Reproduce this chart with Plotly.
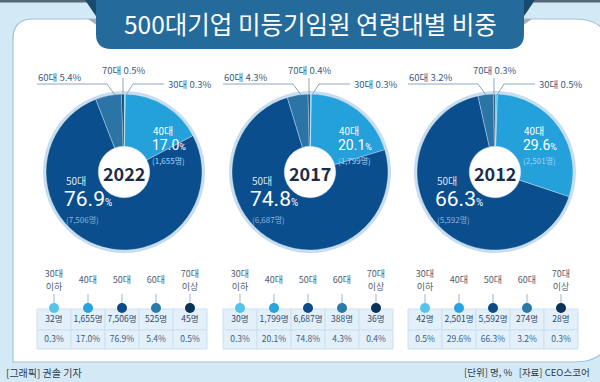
import plotly.graph_objects as go

# ---------------- data ----------------
title_text = "500대기업 미등기임원 연령대별 비중"
years = ["2022", "2017", "2012"]
age_short = ["30대", "40대", "50대", "60대", "70대"]
age_table = ["30대<br>이하", "40대", "50대", "60대", "70대<br>이상"]

counts_2022 = [32, 1655, 7506, 525, 45]
pct_2022 = [0.3, 17.0, 76.9, 5.4, 0.5]
counts_2017 = [30, 1799, 6687, 388, 36]
pct_2017 = [0.3, 20.1, 74.8, 4.3, 0.4]
counts_2012 = [42, 2501, 5592, 274, 28]
pct_2012 = [0.5, 29.6, 66.3, 3.2, 0.3]

credit_left = "[그래픽] 권솔 기자"
credit_right = "[단위] 명, %   [자료] CEO스코어"

counts_all = [counts_2022, counts_2017, counts_2012]
pct_all = [pct_2022, pct_2017, pct_2012]

# ---------------- styles ----------------
W, H = 600, 382
FONT = "Noto Sans CJK KR"
NUMFONT = "Roboto, Noto Sans CJK KR"
slice_colors = ["#4fc2ee", "#24a0db", "#0b4e8e", "#2b74a6", "#0c3862"]
dot_colors = ["#56c3ec", "#28a3dd", "#0d4a8a", "#2b78aa", "#0b3258"]
label_color = "#3b5d84"
leader_color = "#8ea6bf"

pie_cx = [124, 310, 495]
pie_cy = 172
R = 78
HOLE = 0.33
table_left = [37, 223, 408]
col_w = 34

fig = go.Figure()
shapes = []
ann = []

# background panel
shapes.append(dict(type="rect", x0=0, x1=W, y0=0, y1=H, fillcolor="#d4e9f6",
                   line=dict(width=0), layer="below"))
panel_path = ("M 13,39 Q 13,19 33,19 L 575,19 Q 611,19 611,55 L 611,326 "
              "Q 611,362 575,362 L 13,362 Z")
shapes.append(dict(type="path", path=panel_path, fillcolor="white",
                   line=dict(color="#9fc2dc", width=1.2), layer="below"))
# top strip
shapes.append(dict(type="rect", x0=0, x1=W, y0=0, y1=2.5, fillcolor="#55687a",
                   line=dict(width=0), layer="below"))
# banner folds
shapes.append(dict(type="path", path="M 85,0 L 98,0 L 98,19 Z", fillcolor="#174a6d",
                   line=dict(width=0), layer="below"))
shapes.append(dict(type="path", path="M 522,0 L 535,0 L 522,19 Z", fillcolor="#174a6d",
                   line=dict(width=0), layer="below"))
shapes.append(dict(type="path", path="M 88,19 L 98,19 L 98,26 Z", fillcolor="#a9adb2",
                   line=dict(width=0), layer="below"))
shapes.append(dict(type="path", path="M 522,19 L 532,19 L 522,26 Z", fillcolor="#a9adb2",
                   line=dict(width=0), layer="below"))
# banner body
shapes.append(dict(type="path",
                   path="M 96,0 L 524,0 L 524,34 Q 524,49 509,49 L 111,49 Q 96,49 96,34 Z",
                   fillcolor="#246b9b", line=dict(width=0), layer="below"))
ann.append(dict(x=310, y=23, text=title_text, showarrow=False,
                font=dict(family=FONT, size=24.5, color="white")))


def txt(x, y, text, size, color, h, anchor="left", family=FONT):
    ann.append(dict(x=x, y=y, text=text, showarrow=False, xanchor=anchor,
                    height=h, borderpad=0, font=dict(family=family, size=size, color=color)))


for k, year in enumerate(years):
    cx = pie_cx[k]
    counts = counts_all[k]
    pcts = pct_all[k]
    # outer ring and white centre
    shapes.append(dict(type="circle", x0=cx - R - 3, x1=cx + R + 3,
                       y0=pie_cy - R - 3, y1=pie_cy + R + 3,
                       fillcolor="#c6ddee", line=dict(width=0), layer="below"))
    hr = R * HOLE
    shapes.append(dict(type="circle", x0=cx - hr, x1=cx + hr,
                       y0=pie_cy - hr, y1=pie_cy + hr,
                       fillcolor="white", line=dict(color="#dfe7ef", width=1), layer="below"))
    fig.add_trace(go.Pie(
        values=pcts, labels=age_short, sort=False, direction="clockwise", rotation=0,
        hole=HOLE, textinfo="none", hoverinfo="label+percent", showlegend=False,
        marker=dict(colors=slice_colors, line=dict(color="rgba(255,255,255,0.55)", width=0.6)),
        domain=dict(x=[(cx - R) / W, (cx + R) / W],
                    y=[(H - pie_cy - R) / H, (H - pie_cy + R) / H]),
    ))
    # center year
    txt(cx, pie_cy + 1, f"<b>{year}</b>", 18, "#1b2c48", 22, anchor="center")
    # inside label: 40대
    txt(cx + 28, pie_cy - 42, age_short[1], 10, "white", 11)
    txt(cx + 27, pie_cy - 27, f"{pcts[1]:.1f}<span style='font-size:9px'>%</span>",
        14, "white", 14, family=NUMFONT)
    txt(cx + 27, pie_cy - 12, f"({counts[1]:,}명)", 8, "#a6d5f2", 11)
    # inside label: 50대
    txt(cx - 59, pie_cy + 8, age_short[2], 10, "#dce8f3", 12)
    txt(cx - 61, pie_cy + 27, f"{pcts[2]:.1f}<span style='font-size:10px'>%</span>",
        21, "white", 22, family=NUMFONT)
    txt(cx - 59, pie_cy + 47, f"({counts[2]:,}명)", 8, "#8fb2d8", 12)
    # outside labels
    top = pie_cy - R
    txt(cx - 87, top - 17, f"{age_short[3]} {pcts[3]:.1f}%", 9.5, label_color, 12)
    txt(cx, top - 24, f"{age_short[4]} {pcts[4]:.1f}%", 9.5, label_color, 12, anchor="center")
    txt(cx + 43, top - 10, f"{age_short[0]} {pcts[0]:.1f}%", 9.5, label_color, 12)
    shapes.append(dict(type="path",
                       path=f"M {cx-87},{top-10} L {cx-17},{top-10} L {cx-9},{top+1}",
                       line=dict(color=leader_color, width=1)))
    shapes.append(dict(type="line", x0=cx - 1, x1=cx - 1, y0=top - 16, y1=top + 1,
                       line=dict(color=leader_color, width=1)))
    shapes.append(dict(type="path",
                       path=f"M {cx+40},{top-10} L {cx+9},{top-10} L {cx+2},{top+1}",
                       line=dict(color=leader_color, width=1)))

    # table
    tl = table_left[k]
    xs = [tl + col_w / 2 + col_w * i for i in range(len(age_table))]
    for i in range(len(age_table)):
        for (y0, y1) in [(309, 330), (330, 349)]:
            shapes.append(dict(type="rect", x0=tl + col_w * i, x1=tl + col_w * (i + 1),
                               y0=y0, y1=y1, fillcolor="#e3f0fa",
                               line=dict(color="#cbe0f1", width=1), layer="below"))
        shapes.append(dict(type="line", x0=xs[i], x1=xs[i], y0=294, y1=304,
                           line=dict(color="#9db6cc", width=1), layer="below"))
    # category header (one or two lines)
    hx, hy, ht = [], [], []
    for x, lab in zip(xs, age_table):
        parts = lab.split("<br>")
        if len(parts) == 1:
            hx.append(x); hy.append(281); ht.append(parts[0])
        else:
            hx += [x, x]; hy += [274.5, 288]; ht += parts
    fig.add_trace(go.Scatter(x=hx, y=hy, mode="text", text=ht,
                             textfont=dict(family=FONT, size=9, color="#4d5c70"),
                             showlegend=False, hoverinfo="skip"))
    fig.add_trace(go.Scatter(x=xs, y=[308] * 5, mode="markers",
                             marker=dict(size=10, color=dot_colors, line=dict(width=0)),
                             showlegend=False, hoverinfo="skip"))
    fig.add_trace(go.Scatter(x=xs, y=[320] * 5, mode="text",
                             text=[f"{c:,}명" for c in counts],
                             textfont=dict(family=FONT, size=8.5, color="#2d4868"),
                             showlegend=False, hoverinfo="skip"))
    fig.add_trace(go.Scatter(x=xs, y=[340] * 5, mode="text",
                             text=[f"{p:.1f}%" for p in pcts],
                             textfont=dict(family=FONT, size=8.5, color="#3a5e86"),
                             showlegend=False, hoverinfo="skip"))

ann.append(dict(x=4, y=372, text=credit_left, showarrow=False, xanchor="left",
                font=dict(family=FONT, size=10, color="#2f3a48")))
ann.append(dict(x=592, y=372, text=credit_right, showarrow=False, xanchor="right",
                font=dict(family=FONT, size=9.5, color="#2f3a48")))

for a in ann:
    a.setdefault("xref", "x")
    a.setdefault("yref", "y")

fig.update_layout(
    width=W, height=H, margin=dict(l=0, r=0, t=0, b=0),
    paper_bgcolor="#d4e9f6", plot_bgcolor="rgba(0,0,0,0)",
    xaxis=dict(range=[0, W], visible=False, fixedrange=True),
    yaxis=dict(range=[H, 0], visible=False, fixedrange=True),
    shapes=shapes, annotations=ann, font=dict(family=FONT),
)
fig.write_html("out.html", config={"displayModeBar": False},
               post_script="document.body.style.margin='0';document.body.style.overflow='hidden';")
